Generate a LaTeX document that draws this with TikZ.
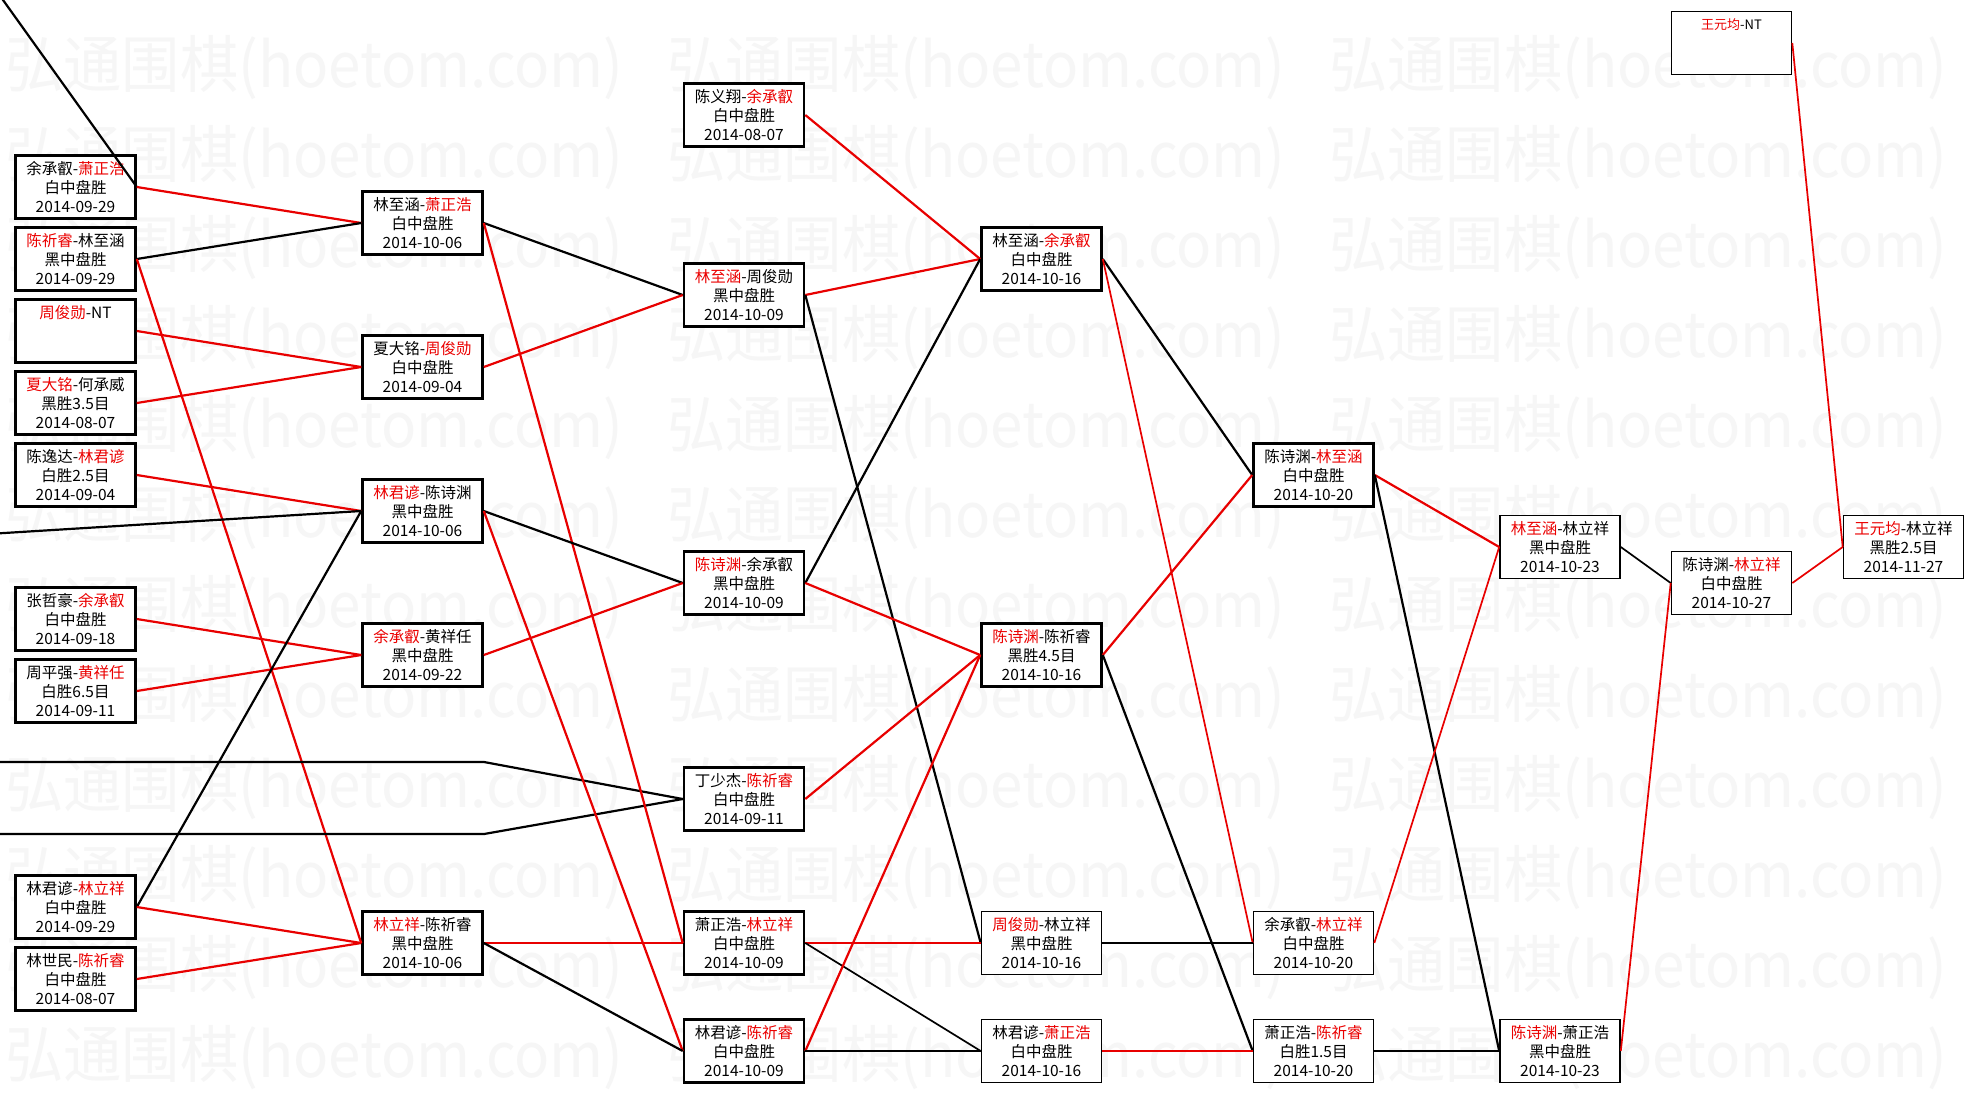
\documentclass[tikz,border=0pt]{standalone}
\usepackage{graphicx}
\usepackage{fontspec}
\setmainfont{Noto Sans CJK SC}
\definecolor{wred}{RGB}{235,0,0}
\definecolor{lred}{RGB}{232,0,0}
\definecolor{wmark}{RGB}{246,246,246}
\newcommand{\wn}[1]{\textcolor{wred}{#1}}
\tikzset{
  box/.style={draw=black, line width=2.6pt, fill=white, minimum width=120pt, minimum height=63pt, inner sep=0pt, align=center, font=\fontsize{15.5}{18.8}\selectfont},
  tbox/.style={box, line width=1.6pt},
  rl/.style={draw=lred, line width=2.2pt},
  bl/.style={draw=black, line width=2.2pt},
  rlt/.style={draw=lred, line width=1.7pt},
  blt/.style={draw=black, line width=1.7pt},
  wm/.style={text=wmark, font=\fontsize{62}{62}\selectfont, anchor=west, inner sep=0pt},
}
\begin{document}
\begin{tikzpicture}[x=1pt,y=-1pt]
\useasboundingbox (0,0) rectangle (1975,1093);
\fill[white] (0,0) rectangle (1975,1093);
\clip (0,0) rectangle (1975,1093);
\foreach \r in {0,...,11}{
  \foreach \c in {0,1,2}{
    \node[wm] (wm-\r-\c) at ({5+662*\c},{68+90*\r}) {\scalebox{0.94}[1]{弘通围棋(hoetom.com)}};
  }
}
% column A
\node[box] (a1) at (75.5,187) {余承叡-\wn{萧正浩}\\白中盘胜\\2014-09-29};
\node[box] (a2) at (75.5,259) {\wn{陈祈睿}-林至涵\\黑中盘胜\\2014-09-29};
\node[box] (a3) at (75.5,331) {\wn{周俊勋}-NT\\\mbox{}\\\vphantom{2014-09-29}};
\node[box] (a4) at (75.5,403) {\wn{夏大铭}-何承威\\黑胜3.5目\\2014-08-07};
\node[box] (a5) at (75.5,475) {陈逸达-\wn{林君谚}\\白胜2.5目\\2014-09-04};
\node[box] (a6) at (75.5,619) {张哲豪-\wn{余承叡}\\白中盘胜\\2014-09-18};
\node[box] (a7) at (75.5,691) {周平强-\wn{黄祥任}\\白胜6.5目\\2014-09-11};
\node[box] (a8) at (75.5,907) {林君谚-\wn{林立祥}\\白中盘胜\\2014-09-29};
\node[box] (a9) at (75.5,979) {林世民-\wn{陈祈睿}\\白中盘胜\\2014-08-07};
% column B
\node[box] (b1) at (422.5,223) {林至涵-\wn{萧正浩}\\白中盘胜\\2014-10-06};
\node[box] (b2) at (422.5,367) {夏大铭-\wn{周俊勋}\\白中盘胜\\2014-09-04};
\node[box] (b3) at (422.5,511) {\wn{林君谚}-陈诗渊\\黑中盘胜\\2014-10-06};
\node[box] (b4) at (422.5,655) {\wn{余承叡}-黄祥任\\黑中盘胜\\2014-09-22};
\node[box] (b5) at (422.5,943) {\wn{林立祥}-陈祈睿\\黑中盘胜\\2014-10-06};
% column C
\node[box] (c0) at (744,115) {陈义翔-\wn{余承叡}\\白中盘胜\\2014-08-07};
\node[box] (c1) at (744,295) {\wn{林至涵}-周俊勋\\黑中盘胜\\2014-10-09};
\node[box] (c2) at (744,583) {\wn{陈诗渊}-余承叡\\黑中盘胜\\2014-10-09};
\node[box] (c3) at (744,799) {丁少杰-\wn{陈祈睿}\\白中盘胜\\2014-09-11};
\node[box] (c4) at (744,943) {萧正浩-\wn{林立祥}\\白中盘胜\\2014-10-09};
\node[box] (c5) at (744,1051) {林君谚-\wn{陈祈睿}\\白中盘胜\\2014-10-09};
% column D
\node[box] (d1) at (1041.5,259) {林至涵-\wn{余承叡}\\白中盘胜\\2014-10-16};
\node[box] (d2) at (1041.5,655) {\wn{陈诗渊}-陈祈睿\\黑胜4.5目\\2014-10-16};
\node[tbox] (d3) at (1041.5,943) {\wn{周俊勋}-林立祥\\黑中盘胜\\2014-10-16};
\node[tbox] (d4) at (1041.5,1051) {林君谚-\wn{萧正浩}\\白中盘胜\\2014-10-16};
% column E
\node[box] (e1) at (1313.5,475) {陈诗渊-\wn{林至涵}\\白中盘胜\\2014-10-20};
\node[tbox] (e2) at (1313.5,943) {余承叡-\wn{林立祥}\\白中盘胜\\2014-10-20};
\node[tbox] (e3) at (1313.5,1051) {萧正浩-\wn{陈祈睿}\\白胜1.5目\\2014-10-20};
% column F
\node[tbox] (f1) at (1560,547) {\wn{林至涵}-林立祥\\黑中盘胜\\2014-10-23};
\node[tbox] (f2) at (1560,1051) {\wn{陈诗渊}-萧正浩\\黑中盘胜\\2014-10-23};
% column G and H
\node[tbox] (g) at (1731.5,583) {陈诗渊-\wn{林立祥}\\白中盘胜\\2014-10-27};
\node[tbox, font=\fontsize{13}{18.8}\selectfont] (nt) at (1731.5,43) {\wn{王元均}-NT\\\mbox{}\\\vphantom{2014-09-29}};
\node[tbox] (h) at (1903.5,547) {\wn{王元均}-林立祥\\黑胜2.5目\\2014-11-27};
% free ends
\coordinate (p0) at (-12,-21);
\coordinate (p1) at (-12,534);
\coordinate (p2) at (-12,762);
\coordinate (p2b) at (484,762);
\coordinate (p3) at (-12,834);
\coordinate (p3b) at (484,834);
% edges A -> B
\draw[bl] (p0) -- (a1.east);
\draw[rl] (a1.east) -- (b1.west);
\draw[bl] (a2.east) -- (b1.west);
\draw[rl] (a2.east) -- (b5.west);
\draw[rl] (a3.east) -- (b2.west);
\draw[rl] (a4.east) -- (b2.west);
\draw[rl] (a5.east) -- (b3.west);
\draw[bl] (p1) -- (b3.west);
\draw[rl] (a6.east) -- (b4.west);
\draw[rl] (a7.east) -- (b4.west);
\draw[bl] (p2) -- (p2b) -- (c3.west);
\draw[bl] (p3) -- (p3b) -- (c3.west);
\draw[bl] (a8.east) -- (b3.west);
\draw[rl] (a8.east) -- (b5.west);
\draw[rl] (a9.east) -- (b5.west);
% B -> C
\draw[bl] (b1.east) -- (c1.west);
\draw[rl] (b1.east) -- (c4.west);
\draw[rl] (b2.east) -- (c1.west);
\draw[bl] (b3.east) -- (c2.west);
\draw[rl] (b3.east) -- (c5.west);
\draw[rl] (b4.east) -- (c2.west);
\draw[rl] (b5.east) -- (c4.west);
\draw[bl] (b5.east) -- (c5.west);
% C -> D
\draw[rl] (c0.east) -- (d1.west);
\draw[rl] (c1.east) -- (d1.west);
\draw[bl] (c1.east) -- (d3.west);
\draw[bl] (c2.east) -- (d1.west);
\draw[rl] (c2.east) -- (d2.west);
\draw[rl] (c3.east) -- (d2.west);
\draw[rl] (c4.east) -- (d3.west);
\draw[blt] (c4.east) -- (d4.west);
\draw[rl] (c5.east) -- (d2.west);
\draw[blt] (c5.east) -- (d4.west);
% D -> E
\draw[bl] (d1.east) -- (e1.west);
\draw[rlt] (d1.east) -- (e2.west);
\draw[rl] (d2.east) -- (e1.west);
\draw[bl] (d2.east) -- (e3.west);
\draw[blt] (d3.east) -- (e2.west);
\draw[rlt] (d4.east) -- (e3.west);
% E -> F
\draw[rl] (e1.east) -- (f1.west);
\draw[bl] (e1.east) -- (f2.west);
\draw[rlt] (e2.east) -- (f1.west);
\draw[blt] (e3.east) -- (f2.west);
% F -> G -> H
\draw[blt] (f1.east) -- (g.west);
\draw[rlt] (f2.east) -- (g.west);
\draw[rlt] (g.east) -- (h.west);
\draw[rlt] (nt.east) -- (h.west);
\end{tikzpicture}
\end{document}
